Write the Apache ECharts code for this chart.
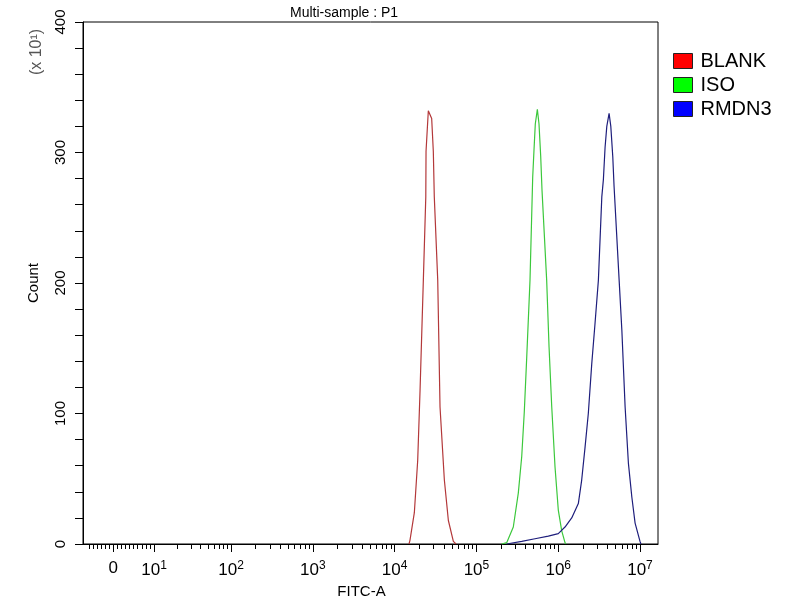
<!DOCTYPE html>
<html>
<head>
<meta charset="utf-8">
<script src="https://cdn.jsdelivr.net/npm/echarts@6/dist/echarts.min.js"></script>
<style>
html, body { margin: 0; padding: 0; background: #fff; }
#chart { width: 800px; height: 600px; }
</style>
</head>
<body>
<div id="chart"></div>
<script>
// FITC-A read as log10(intensity), Count in units of 10^1
var blankLog   = [4.176, 4.188, 4.241, 4.282, 4.311, 4.351, 4.381, 4.384, 4.412, 4.453, 4.473, 4.485, 4.527, 4.555, 4.608, 4.657, 4.718, 4.751];
var blankCount = [0, 3, 24, 64, 118, 202, 266, 301, 332, 326, 301, 266, 202, 105, 49, 18, 2, 0];

var isoLog   = [5.309, 5.370, 5.451, 5.512, 5.554, 5.585, 5.615, 5.655, 5.688, 5.704, 5.720, 5.745, 5.765, 5.786, 5.802, 5.859, 5.888, 5.921, 5.961, 6.001, 6.043, 6.083, 6.095];
var isoCount = [0, 1, 13, 39, 67, 101, 143, 202, 281, 302, 322, 333, 322, 297, 271, 202, 151, 105, 59, 26, 10, 1, 0];

var rmdnLog   = [5.370, 5.554, 5.716, 5.879, 6.001, 6.083, 6.165, 6.246, 6.287, 6.328, 6.368, 6.410, 6.450, 6.491, 6.533, 6.552, 6.573, 6.594, 6.622, 6.643, 6.667, 6.683, 6.745, 6.778, 6.818, 6.858, 6.900, 6.940, 7.000, 7.012];
var rmdnCount = [0, 2, 4, 6, 8, 13, 20, 31, 49, 74, 100, 138, 169, 202, 266, 279, 304, 320, 330, 320, 297, 274, 202, 164, 105, 62, 36, 16, 2, 0];

var seriesNames  = ['BLANK', 'ISO', 'RMDN3'];
var lineColors   = ['#b3383a', '#3cc83c', '#1e1e7c'];
var legendColors = ['#ff0000', '#00ff00', '#0000ff'];

var decadeLabels = ['0', '10{s|1}', '10{s|2}', '10{s|3}', '10{s|4}', '10{s|5}', '10{s|6}', '10{s|7}'];
var linearTicks  = [-6, -5, -4, -3, -2, -1, 1, 2, 3, 4, 5, 6, 7, 8, 9];

// display scale: one unit per decade above 10^2, compressed below it (biexponential look)
var lowDecade = 77 / 81.8;
function logPos(d) { return d >= 2 ? d : 2 - (2 - d) * lowDecade; }
var zeroPos = 0.56;
function linPos(v) { return zeroPos + v * (logPos(1) - zeroPos) / 10; }

var majorTicks = [linPos(0)];
for (var d = 1; d <= 7; d++) majorTicks.push(logPos(d));

var minorTicks = linearTicks.map(linPos);
for (var d = 1; d < 7; d++) {
    for (var k = 2; k <= 9; k++) minorTicks.push(logPos(d + Math.log10(k)));
}

function pairs(xs, ys) {
    return xs.map(function (x, i) { return [x, ys[i]]; });
}
var seriesData = [pairs(blankLog, blankCount), pairs(isoLog, isoCount), pairs(rmdnLog, rmdnCount)];

var myChart = echarts.init(document.getElementById('chart'));
var xMin = 0.19, xMax = 7.22;

option = {
    animation: false,
    title: {
        text: 'Multi-sample : P1',
        left: 285,
        top: 1,
        textStyle: { fontFamily: 'Liberation Sans', fontSize: 14, fontWeight: 'normal', color: '#000' }
    },
    legend: {
        orient: 'vertical',
        left: 673,
        top: 51,
        padding: 0,
        icon: 'rect',
        itemWidth: 19,
        itemHeight: 15,
        itemGap: 4,
        textStyle: { fontFamily: 'Liberation Sans', fontSize: 20, color: '#000', padding: [16, 0, 0, 3] },
        data: seriesNames.map(function (n, i) {
            return { name: n, itemStyle: { color: legendColors[i], borderColor: '#222', borderWidth: 1 } };
        })
    },
    grid: {
        left: 83, right: 142, top: 22, bottom: 56,
        outerBoundsMode: 'none',
        containLabel: false,
        show: true,
        borderColor: '#000',
        borderWidth: 1
    },
    xAxis: [
        {
            type: 'value',
            position: 'bottom',
            min: xMin, max: xMax,
            name: 'FITC-A',
            nameLocation: 'middle',
            nameGap: 38,
            nameTextStyle: { fontFamily: 'Liberation Sans', fontSize: 15, color: '#000', padding: [0, 18, 0, 0] },
            axisLine: { lineStyle: { color: '#000', width: 1 } },
            axisTick: { show: true, length: 8, customValues: majorTicks, lineStyle: { color: '#000' } },
            axisLabel: {
                customValues: majorTicks,
                margin: 16,
                fontFamily: 'Liberation Sans',
                fontSize: 17,
                color: '#000',
                formatter: function (v) {
                    var best = 0;
                    for (var i = 1; i < majorTicks.length; i++) {
                        if (Math.abs(majorTicks[i] - v) < Math.abs(majorTicks[best] - v)) best = i;
                    }
                    return decadeLabels[best];
                },
                rich: { s: { fontFamily: 'Liberation Sans', fontSize: 12, color: '#000', verticalAlign: 'top', padding: [0, 0, 9, 0] } }
            },
            splitLine: { show: false }
        },
        {
            type: 'value',
            position: 'bottom',
            min: xMin, max: xMax,
            axisLine: { show: false },
            axisTick: { show: true, length: 5, customValues: minorTicks, lineStyle: { color: '#000' } },
            axisLabel: { show: false },
            splitLine: { show: false }
        }
    ],
    yAxis: {
        type: 'value',
        min: 0, max: 400, interval: 20,
        name: 'Count',
        nameLocation: 'middle',
        nameRotate: 90,
        nameGap: 42,
        nameTextStyle: { fontFamily: 'Liberation Sans', fontSize: 15, color: '#000' },
        axisLine: { show: true, lineStyle: { color: '#000', width: 1 } },
        axisTick: { show: true, length: 8, lineStyle: { color: '#000' } },
        axisLabel: {
            rotate: 90,
            margin: 15,
            fontFamily: 'Liberation Sans',
            fontSize: 15,
            color: '#000',
            formatter: function (v) { return v % 100 === 0 ? String(v) : ''; }
        },
        splitLine: { show: false }
    },
    graphic: [{
        type: 'text',
        x: 37, y: 52,
        rotation: Math.PI / 2,
        style: {
            text: '(x 10¹)',
            fontFamily: 'Liberation Sans',
            fontSize: 16,
            fill: '#555',
            align: 'center',
            verticalAlign: 'middle'
        }
    }],
    series: seriesNames.map(function (n, i) {
        return {
            name: n,
            type: 'line',
            xAxisIndex: 0,
            data: seriesData[i],
            showSymbol: false,
            symbol: 'none',
            color: lineColors[i],
            lineStyle: { width: 1.2, color: lineColors[i] }
        };
    })
};

myChart.setOption(option);
</script>
</body>
</html>
